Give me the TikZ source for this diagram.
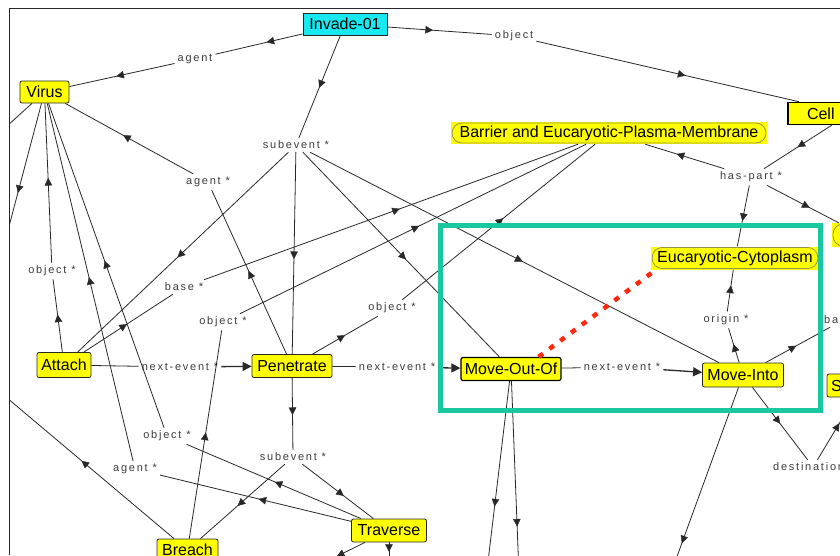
\documentclass[tikz,border=0pt]{standalone}
\usepackage{fontspec}
\setmainfont{Liberation Sans}
\newfontfamily\lblfont[LetterSpace=16]{Liberation Sans}
\usetikzlibrary{arrows.meta,decorations.markings}

\definecolor{kmyellow}{RGB}{255,255,0}
\definecolor{kmcyan}{RGB}{24,232,240}
\definecolor{kmline}{RGB}{40,40,40}
\definecolor{kmlabel}{RGB}{60,60,60}
\definecolor{kmpill}{RGB}{150,150,70}
\definecolor{kmteal}{RGB}{26,200,160}
\definecolor{kmred}{RGB}{255,40,10}

\tikzset{
  concept/.style={rectangle, rounded corners=2pt, fill=kmyellow, draw=kmline,
    line width=0.8pt, minimum height=22pt, inner xsep=3pt, inner ysep=0pt,
    font=\fontsize{16}{18}\selectfont, text=black},
  pill/.style={rectangle, fill=kmyellow, minimum height=22pt, inner xsep=6pt,
    inner ysep=0pt, font=\fontsize{16}{18}\selectfont, text=black,
    path picture={\draw[kmpill, line width=0.8pt, rounded corners=10pt]
      ([shift={(1pt,1pt)}]path picture bounding box.south west) rectangle
      ([shift={(-1pt,-1pt)}]path picture bounding box.north east);}},
  cellbox/.style={concept, rounded corners=0pt, draw=black, line width=1.6pt,
    minimum width=124pt, text width=86pt, inner xsep=19pt, align=left},
  lbl/.style={font=\lblfont\fontsize{11}{13}\selectfont, text=kmlabel, inner sep=3pt},
  kmedge/.style={draw=kmline, line width=0.8pt},
  midtip/.style={color=kmline, decoration={markings,
      mark=at position 0.5 with {\arrow[xshift=3.5pt]{Triangle[length=7.5pt,width=7.5pt]}}},
    postaction={decorate}},
  nextarrow/.style={draw=kmline, line width=1.3pt, -{Triangle[length=9pt,width=9pt]}},
  focusbox/.style={draw=kmteal, line width=5pt, minimum width=380pt, minimum height=185pt},
  linkdots/.style={draw=kmred, line width=4.5pt, dash pattern=on 5.5pt off 8pt}
}

% one relation segment: the line between node borders, a tip half-way between centres
\newcommand\kmseg[2]{%
  \draw[kmedge] (#1) -- (#2);
  \path[midtip] (#1.center) -- (#2.center);}

\begin{document}
\begin{tikzpicture}[x=1pt,y=-1pt]
\useasboundingbox (0,0) rectangle (840,555);
\begin{scope}
\clip (10,9.5) rectangle (840,555);

% concepts
\node[concept, fill=kmcyan, rounded corners=0pt, minimum width=84pt] (inv) at (345,24) {Invade-01};
\node[concept, minimum width=49pt] (virus) at (44.5,92) {Virus};
\node[cellbox] (cell) at (850,113.5) {Cell};
\node[pill, minimum width=316pt] (bar) at (609,133) {Barrier and Eucaryotic-Plasma-Membrane};
\node[pill, minimum width=60pt, minimum height=24pt] (rpill) at (862,235) {};
\node[pill, minimum width=166pt, minimum height=23pt] (cyto) at (735,258) {Eucaryotic-Cytoplasm};
\node[concept, minimum width=54pt, minimum height=25pt] (attach) at (64,365) {Attach};
\node[concept, minimum width=80pt, minimum height=23pt] (pen) at (292,366) {Penetrate};
\node[concept, draw=black, line width=1.2pt, minimum width=100pt, minimum height=23pt] (moo) at (511,369) {Move-Out-Of};
\node[concept, minimum width=81pt, minimum height=24pt] (mi) at (743,375) {Move-Into};
\node[concept, minimum width=70pt, minimum height=23pt, text width=62pt, inner xsep=4pt, align=left] (sbox) at (862,385.5) {S};
\node[concept, minimum width=75pt, minimum height=23pt] (trav) at (389,530.5) {Traverse};
\node[concept, minimum width=61pt] (breach) at (187.5,550) {Breach};

% relation labels
\node[lbl] (lAgent) at (195,59) {agent};
\node[lbl] (lObject) at (514,36) {object};
\node[lbl] (lSubA) at (296,145) {subevent *};
\node[lbl] (lAgentP) at (208,182) {agent *};
\node[lbl] (lObjA) at (52,271) {object *};
\node[lbl] (lBase) at (184,287) {base *};
\node[lbl] (lObjB) at (223,322) {object *};
\node[lbl] (lObjP) at (392,308) {object *};
\node[lbl] (lNextA) at (180,367) {next-event *};
\node[lbl] (lNextB) at (397,367) {next-event *};
\node[lbl] (lNextC) at (622,367) {next-event *};
\node[lbl] (lOrigin) at (726,320) {origin *};
\node[lbl] (lHas) at (751,177) {has-part *};
\node[lbl, anchor=west] (lBaseR) at (821,320) {base *};
\node[lbl, anchor=west] (lDest) at (770,467) {destination *};
\node[lbl] (lSubB) at (293,457) {subevent *};
\node[lbl] (lAgentT) at (135,469) {agent *};
\node[lbl] (lObjT) at (167,436) {object *};

% far ends of relations leaving the view
\coordinate (vL1) at (-36,165);
\coordinate (vL2) at (-7,287);
\coordinate (mooD1) at (479,637);
\coordinate (mooD2) at (523,677);
\coordinate (miD) at (623,705);
\coordinate (brL) at (-19,376);
\coordinate (travD) at (389,566);
\coordinate (travL) at (291,579);

% relations
\kmseg{inv}{lAgent} \kmseg{lAgent}{virus}
\kmseg{inv}{lObject} \kmseg{lObject}{cell}
\kmseg{inv}{lSubA}
\kmseg{lSubA}{attach} \kmseg{lSubA}{pen} \kmseg{lSubA}{moo} \kmseg{lSubA}{mi}
\kmseg{pen}{lAgentP} \kmseg{lAgentP}{virus}
\kmseg{attach}{lObjA} \kmseg{lObjA}{virus}
\kmseg{attach}{lBase} \kmseg{lBase}{bar}
\kmseg{breach}{lObjB} \kmseg{lObjB}{bar}
\kmseg{pen}{lObjP} \kmseg{lObjP}{bar}
\draw[kmedge] (attach) -- (lNextA);
\draw[nextarrow] (lNextA) -- (pen);
\draw[kmedge] (pen) -- (lNextB);
\draw[nextarrow] (lNextB) -- (moo);
\draw[kmedge] (moo) -- (lNextC);
\draw[nextarrow] (lNextC) -- (mi);
\kmseg{mi}{lOrigin} \kmseg{lOrigin}{cyto}
\kmseg{mi}{lBaseR}
\kmseg{cell}{lHas}
\kmseg{lHas}{bar} \kmseg{lHas}{cyto} \kmseg{lHas}{rpill}
\kmseg{pen}{lSubB}
\kmseg{lSubB}{trav} \kmseg{lSubB}{breach}
\kmseg{trav}{lAgentT} \kmseg{lAgentT}{virus}
\kmseg{trav}{lObjT} \kmseg{lObjT}{virus}
\kmseg{mi}{lDest} \kmseg{lDest}{sbox}
\kmseg{moo}{mooD1} \kmseg{moo}{mooD2} \kmseg{mi}{miD}
\kmseg{breach}{brL}
\kmseg{virus}{vL1} \kmseg{virus}{vL2}
\kmseg{trav}{travD} \kmseg{trav}{travL}

% highlighted region and the dotted link
\node[focusbox] (focus) at (630.5,318) {};
\draw[linkdots] ([xshift=-23pt]moo.north east) -- ([xshift=5pt]cyto.south west);
\end{scope}

% window frame
\draw[kmline, line width=1.6pt] (9.5,555) -- (9.5,8.5) -- (840,8.5);
\end{tikzpicture}
\end{document}
